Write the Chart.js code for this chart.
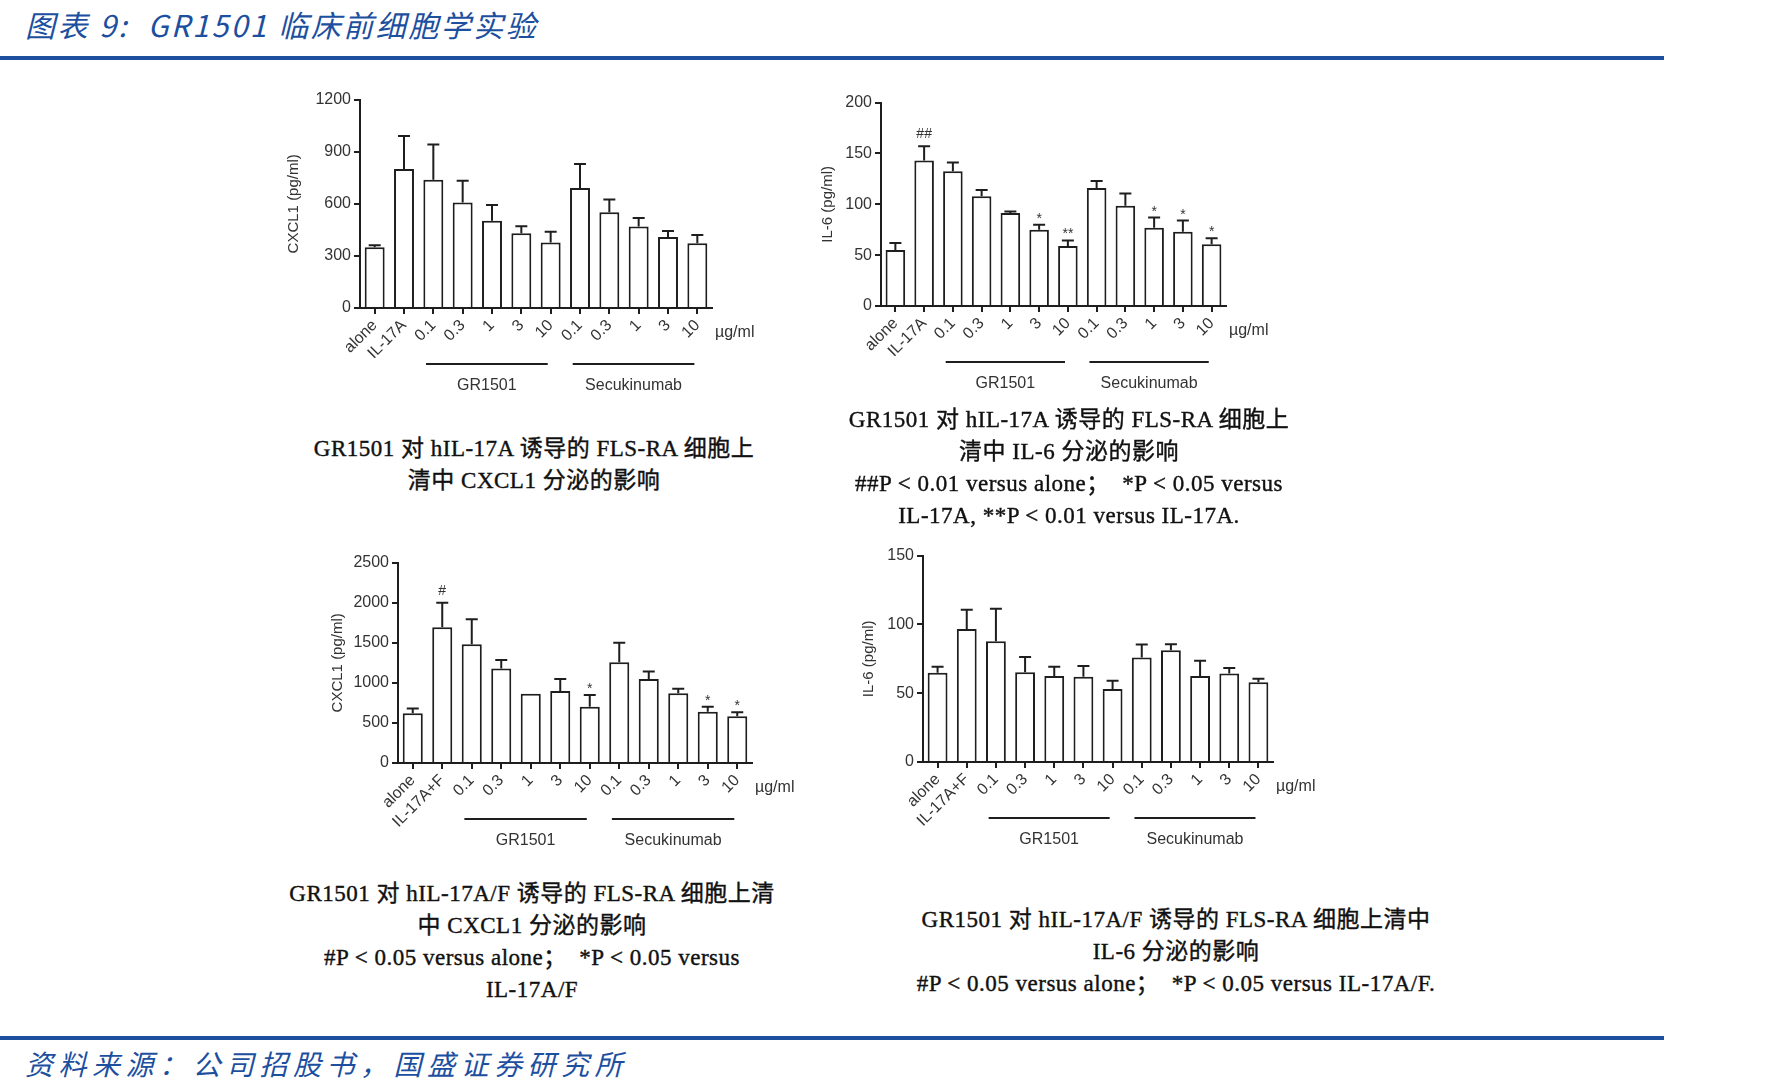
<!DOCTYPE html>
<html lang="zh">
<head>
<meta charset="UTF-8" />
<title>GR1501 临床前细胞学实验</title>
<script src="https://cdn.jsdelivr.net/npm/chart.js"></script>
<style>
  body {
    margin: 0;
    width: 1784px;
    height: 1091px;
    background: #fff;
    position: relative;
    overflow: hidden;
    font-family: "Liberation Sans", Arial, sans-serif;
  }
  .hdr {
    position: absolute;
    left: 25px;
    color: #1d4f9f;
    font-family: "Noto Sans CJK SC", sans-serif;
    font-style: italic;
    white-space: nowrap;
  }
  .rule {
    position: absolute;
    left: 0;
    width: 1664px;
    height: 4px;
    background: #1d4f9f;
  }
  .box {
    position: absolute;
  }
  .cap {
    position: absolute;
    transform: translateX(-50%);
    text-align: center;
    white-space: nowrap;
    font-family: "Liberation Serif", "Noto Sans CJK SC", serif;
    font-size: 23px;
    letter-spacing: 0.5px;
    line-height: 32px;
    color: #111;
    -webkit-text-stroke: 0.4px #111;
  }
</style>
</head>
<body>

<div class="hdr" style="top:2px;font-size:30px;letter-spacing:2.5px;">图表 9:&nbsp; GR1501 临床前细胞学实验</div>
<div class="rule" style="top:56px;"></div>
<div class="rule" style="top:1036px;"></div>
<div class="hdr" style="top:1043px;font-size:28px;letter-spacing:5.5px;">资料来源：公司招股书，国盛证券研究所</div>

<div class="box" id="b1"><canvas id="c1"></canvas></div>
<div class="box" id="b2"><canvas id="c2"></canvas></div>
<div class="box" id="b3"><canvas id="c3"></canvas></div>
<div class="box" id="b4"><canvas id="c4"></canvas></div>

<div class="cap" style="left:534px;top:433px;">GR1501 对 hIL-17A 诱导的 FLS-RA 细胞上<br>清中 CXCL1 分泌的影响</div>
<div class="cap" style="left:1069px;top:404px;">GR1501 对 hIL-17A 诱导的 FLS-RA 细胞上<br>清中 IL-6 分泌的影响<br>##P &lt; 0.01 versus alone；&nbsp; *P &lt; 0.05 versus<br>IL-17A, **P &lt; 0.01 versus IL-17A.</div>
<div class="cap" style="left:532px;top:878px;">GR1501 对 hIL-17A/F 诱导的 FLS-RA 细胞上清<br>中 CXCL1 分泌的影响<br>#P &lt; 0.05 versus alone；&nbsp; *P &lt; 0.05 versus<br>IL-17A/F</div>
<div class="cap" style="left:1176px;top:904px;">GR1501 对 hIL-17A/F 诱导的 FLS-RA 细胞上清中<br>IL-6 分泌的影响<br>#P &lt; 0.05 versus alone；&nbsp; *P &lt; 0.05 versus IL-17A/F.</div>

<script>
  // categories
  const labelsA = ['alone', 'IL-17A', '0.1', '0.3', '1', '3', '10', '0.1', '0.3', '1', '3', '10'];
  const labelsAF = ['alone', 'IL-17A+F', '0.1', '0.3', '1', '3', '10', '0.1', '0.3', '1', '3', '10'];

  // IL-17A stimulated, CXCL1 (pg/ml)
  const cxcl1A = [350, 800, 738, 607, 503, 430, 377, 691, 552, 469, 409, 373];
  const cxcl1AErr = [12, 190, 204, 126, 90, 41, 62, 138, 73, 49, 34, 47];
  const cxcl1ASig = ['', '', '', '', '', '', '', '', '', '', '', ''];

  // IL-17A stimulated, IL-6 (pg/ml)
  const il6A = [55, 143, 132.5, 108, 91.4, 75, 59, 116, 98.5, 77, 73, 60.7];
  const il6AErr = [7, 14, 8.5, 6, 1.5, 5, 5.5, 7, 12, 10, 11, 6];
  const il6ASig = ['', '##', '', '', '', '*', '**', '', '', '*', '*', '*'];

  // IL-17A/F stimulated, CXCL1 (pg/ml)
  const cxcl1AF = [620, 1692, 1480, 1179, 865, 897, 701, 1256, 1048, 869, 640, 583];
  const cxcl1AFErr = [61, 306, 314, 106, 0, 151, 147, 245, 94, 57, 61, 49];
  const cxcl1AFSig = ['', '#', '', '', '', '', '*', '', '', '', '*', '*'];

  // IL-17A/F stimulated, IL-6 (pg/ml)
  const il6AF = [64.9, 96.7, 87.8, 65.3, 62.5, 62, 53, 76, 81.3, 62.5, 64.4, 57.9];
  const il6AFErr = [4.3, 14, 23.6, 11, 6.8, 7.7, 6, 9.4, 4.3, 11, 4, 2.6];
  const il6AFSig = ['', '', '', '', '', '', '', '', '', '', '', ''];

  // groups under the axis: [first index, last index, name]
  const groupNames = [[2, 6, 'GR1501'], [7, 11, 'Secukinumab']];
  const unitLabel = 'µg/ml';

  const ink = '#1e1e1e';
  const txt = '#333';
  const sans = '"Liberation Sans", Arial, sans-serif';

  // error bars, significance marks, group lines, unit
  function makeExtras(errs, sigs) {
    return {
      id: 'extras',
      afterDatasetsDraw(chart) {
        const ctx = chart.ctx;
        const y = chart.scales.y;
        const x = chart.scales.x;
        const meta = chart.getDatasetMeta(0);
        const vals = chart.data.datasets[0].data;
        ctx.save();
        ctx.strokeStyle = ink;
        ctx.lineWidth = 2;
        meta.data.forEach((bar, i) => {
          let top = bar.y;
          if (errs[i] > 0) {
            top = y.getPixelForValue(vals[i] + errs[i]);
            ctx.beginPath();
            ctx.moveTo(bar.x, bar.y);
            ctx.lineTo(bar.x, top);
            ctx.moveTo(bar.x - 6, top);
            ctx.lineTo(bar.x + 6, top);
            ctx.stroke();
          }
          if (sigs[i]) {
            ctx.fillStyle = txt;
            ctx.font = '14px ' + sans;
            ctx.textAlign = 'center';
            ctx.textBaseline = 'alphabetic';
            const m = ctx.measureText(sigs[i]);
            const cy = top - (sigs[i][0] === '#' ? 13 : 9);
            ctx.fillText(sigs[i], bar.x, cy + (m.actualBoundingBoxAscent - m.actualBoundingBoxDescent) / 2);
          }
        });
        // groups
        const step = x.getPixelForValue(1) - x.getPixelForValue(0);
        const base = chart.chartArea.bottom;
        ctx.fillStyle = txt;
        ctx.font = '16px ' + sans;
        ctx.textAlign = 'center';
        ctx.textBaseline = 'middle';
        groupNames.forEach(([a, b, name]) => {
          const x0 = x.getPixelForValue(a) - step * 0.25;
          const x1 = x.getPixelForValue(b) - step * 0.1;
          ctx.beginPath();
          ctx.moveTo(x0, base + 56);
          ctx.lineTo(x1, base + 56);
          ctx.stroke();
          ctx.fillText(name, (x0 + x1) / 2, base + 78);
        });
        ctx.font = '16px ' + sans;
        ctx.textAlign = 'left';
        ctx.fillText(unitLabel, x.right + 3, base + 25);
        ctx.restore();
      }
    };
  }

  function drawPanel(id, box, labels, vals, errs, sigs, yMax, yStep, yTitle) {
    const holder = document.getElementById('b' + id);
    holder.style.left = box.left + 'px';
    holder.style.top = box.top + 'px';
    const cv = document.getElementById('c' + id);
    cv.width = box.width;
    cv.height = box.height;
    cv.style.width = box.width + 'px';
    cv.style.height = box.height + 'px';

    new Chart(cv.getContext('2d'), {
      type: 'bar',
      data: {
        labels: labels,
        datasets: [{
          data: vals,
          backgroundColor: '#fff',
          borderColor: ink,
          borderWidth: 2,
          barPercentage: 0.68,
          categoryPercentage: 1
        }]
      },
      options: {
        responsive: false,
        animation: false,
        devicePixelRatio: 1,
        layout: { padding: { top: 12, right: 60, left: 0, bottom: 0 } },
        plugins: { legend: { display: false }, tooltip: { enabled: false } },
        scales: {
          x: {
            afterFit(s) { s.height = 100; },
            grid: { display: true, drawOnChartArea: false, offset: false, tickLength: 6, color: ink, lineWidth: 2 },
            border: { display: true, color: ink, width: 2 },
            ticks: {
              autoSkip: false, minRotation: 45, maxRotation: 45, padding: 2,
              color: txt, font: { size: 16, family: sans }
            }
          },
          y: {
            min: 0,
            max: yMax,
            afterFit(s) { s.width = box.yw; },
            grid: { display: true, drawOnChartArea: false, tickLength: 6, color: ink, lineWidth: 2 },
            border: { display: true, color: ink, width: 2 },
            ticks: {
              stepSize: yStep, padding: 3,
              callback: (v) => String(v),
              color: txt, font: { size: 16, family: sans }
            },
            title: {
              display: true, text: yTitle, color: txt, padding: 0,
              font: { size: 15, family: sans }
            }
          }
        }
      },
      plugins: [makeExtras(errs, sigs)]
    });
  }

  drawPanel(1, { left: 285, top: 87, width: 487, height: 321, yw: 75 }, labelsA, cxcl1A, cxcl1AErr, cxcl1ASig, 1200, 300, 'CXCL1 (pg/ml)');
  drawPanel(2, { left: 819, top: 90, width: 467, height: 316, yw: 62 }, labelsA, il6A, il6AErr, il6ASig, 200, 50, 'IL-6 (pg/ml)');
  drawPanel(3, { left: 329, top: 550, width: 483, height: 313, yw: 69 }, labelsAF, cxcl1AF, cxcl1AFErr, cxcl1AFSig, 2500, 500, 'CXCL1 (pg/ml)');
  drawPanel(4, { left: 860, top: 543, width: 473, height: 319, yw: 63 }, labelsAF, il6AF, il6AFErr, il6AFSig, 150, 50, 'IL-6 (pg/ml)');
</script>

</body>
</html>
